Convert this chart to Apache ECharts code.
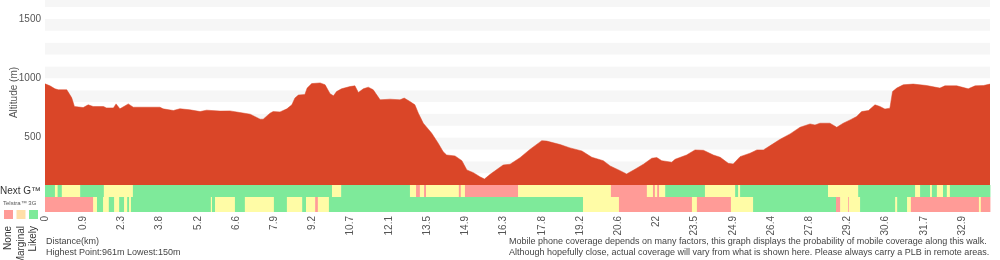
<!DOCTYPE html>
<html>
<head>
<meta charset="utf-8">
<script src="https://cdn.jsdelivr.net/npm/echarts@6/dist/echarts.min.js"></script>
<style>
  html, body { margin: 0; padding: 0; background: #fff; }
  #chart { width: 1000px; height: 260px; }
</style>
</head>
<body>
<div id="chart"></div>
<script>
// x is the sample index along the walk; a distance label is shown every 10 samples
const distanceLabels = ['0', '0.9', '2.3', '3.8', '5.2', '6.6', '7.9', '9.2', '10.7', '12.1', '13.5', '14.9',
  '16.3', '17.8', '19.2', '20.6', '22', '23.5', '24.9', '26.4', '27.8', '29.2', '30.6', '31.7', '32.9']
const lastSample = 247.3

// altitude profile: [sample, metres]
const altitude = [
  [0, 953], [1.3, 936], [2.6, 911], [3.5, 903], [5.7, 903], [6.1, 897], [7.0, 835], [7.7, 762], [7.9, 753],
  [10.0, 753], [11.3, 776], [12.6, 762], [15.3, 762], [16.1, 750], [17.9, 750], [18.6, 784], [19.6, 742],
  [21.8, 784], [23.1, 756], [24.9, 756], [30.1, 756], [30.9, 742], [33.6, 728], [35.3, 743], [37.9, 734],
  [40.6, 719], [42.3, 731], [45.8, 723], [48.4, 725], [51.0, 711], [53.7, 697], [56.3, 655], [57.1, 655],
  [58.9, 706], [59.7, 719], [61.5, 716], [63.3, 742], [64.6, 776], [65.4, 833], [66.3, 858], [68.0, 863],
  [68.6, 917], [69.8, 955], [72.0, 961], [73.3, 945], [74.6, 869], [75.5, 852], [76.3, 888], [77.6, 911],
  [79.8, 930], [81.1, 936], [82.0, 880], [83.3, 911], [84.6, 925], [85.9, 903], [87.7, 818], [90.3, 824],
  [92.9, 818], [94.0, 833], [95.5, 804], [96.8, 776], [97.7, 706], [99.0, 621], [101.2, 537], [102.9, 452],
  [104.2, 381], [105.1, 353], [107.3, 345], [109.1, 305], [110.4, 227], [112.1, 204], [113.8, 170],
  [115.0, 150], [116.5, 190], [119.9, 269], [121.7, 275], [124.3, 330], [126.9, 400], [130.0, 474],
  [131.3, 470], [134.8, 441], [137.4, 413], [140.5, 387], [143.1, 334], [146.1, 305], [147.9, 261],
  [150.5, 221], [152.2, 193], [154.4, 233], [156.6, 275], [158.8, 326], [160.1, 331], [161.4, 305],
  [164.0, 292], [164.9, 317], [167.9, 353], [170.1, 396], [172.3, 393], [174.9, 353], [176.7, 334],
  [178.8, 283], [180.1, 277], [181.9, 339], [184.5, 368], [186.3, 396], [188.0, 396], [189.7, 430],
  [192.4, 486], [195.0, 531], [197.6, 587], [200.2, 615], [201.5, 606], [202.8, 621], [205.4, 621],
  [207.2, 587], [208.9, 621], [210.7, 649], [212.4, 677], [213.7, 719], [215.5, 728], [217.2, 776],
  [218.5, 762], [219.8, 740], [221.1, 748], [221.8, 888], [222.9, 917], [224.6, 945], [227.2, 951],
  [230.7, 939], [234.2, 917], [235.5, 936], [238.6, 936], [241.6, 911], [243.4, 936], [245.6, 939],
  [247.3, 951]
]

// coverage: [from sample, to sample, level]  level 0 none, 1 marginal, 2 likely
const nextG = [
  [0, 2.6, 2], [2.6, 3.3, 1], [3.3, 4.4, 2], [4.4, 9.2, 1], [9.2, 15.4, 2], [15.4, 23.0, 1], [23.0, 75.1, 2],
  [75.1, 77.5, 1], [77.5, 95.5, 2], [95.5, 97.1, 1], [97.1, 98.1, 0], [98.1, 99.2, 1], [99.2, 99.7, 0],
  [99.7, 108.3, 1], [108.3, 108.8, 0], [108.8, 109.9, 1], [109.9, 123.8, 0], [123.8, 148.1, 1],
  [148.1, 157.5, 0], [157.5, 159.1, 1], [159.1, 159.6, 0], [159.6, 160.2, 1], [160.2, 160.7, 0],
  [160.7, 162.3, 1], [162.3, 172.7, 2], [172.7, 180.6, 1], [180.6, 181.4, 2], [181.4, 181.9, 1],
  [181.9, 204.9, 2], [204.9, 212.8, 1], [212.8, 227.7, 2], [227.7, 229.0, 1], [229.0, 231.6, 2],
  [231.6, 232.1, 1], [232.1, 233.4, 2], [233.4, 235.0, 1], [235.0, 236.0, 2], [236.0, 236.8, 1],
  [236.8, 247.3, 2]
]
const telstra3G = [
  [0, 12.6, 0], [12.6, 13.6, 1], [13.6, 15.2, 2], [15.2, 16.7, 1], [16.7, 18.1, 2], [18.1, 19.4, 1],
  [19.4, 20.7, 2], [20.7, 21.5, 1], [21.5, 22.0, 2], [22.0, 22.5, 1], [22.5, 43.4, 2], [43.4, 43.7, 1],
  [43.7, 44.5, 2], [44.5, 49.7, 1], [49.7, 52.3, 2], [52.3, 59.9, 1], [59.9, 63.3, 2], [63.3, 67.3, 1],
  [67.3, 68.3, 2], [68.3, 70.7, 1], [70.7, 71.4, 0], [71.4, 74.3, 1], [74.3, 140.8, 2], [140.8, 150.2, 1],
  [150.2, 169.3, 0], [169.3, 170.6, 1], [170.6, 179.5, 0], [179.5, 185.3, 1], [185.3, 207.0, 2],
  [207.0, 208.1, 0], [208.1, 210.2, 1], [210.2, 210.4, 0], [210.4, 213.3, 1], [213.3, 222.5, 2],
  [222.5, 223.0, 1], [223.0, 225.6, 2], [225.6, 226.6, 1], [226.6, 244.4, 0], [244.4, 244.9, 1],
  [244.9, 247.3, 0]
]
const levelNames = ['None', 'Marginal', 'Likely']

const coverageColors = ['#ff9b97', '#fffca6', '#7eea9a']
const legendColors = ['#ff9b97', '#ffdfa8', '#7eea9a']
const textFont = '"Liberation Sans", Arial, sans-serif'

const chart = echarts.init(document.getElementById('chart'), null, { renderer: 'canvas' })

function coverageItem(params, api) {
  const a = api.coord([api.value(0), 1])
  const b = api.coord([api.value(1), 0])
  return {
    type: 'rect',
    shape: { x: a[0], y: a[1], width: b[0] - a[0] + 0.4, height: b[1] - a[1] },
    style: { fill: coverageColors[api.value(2)] }
  }
}

const hiddenX = (gridIndex) => ({
  type: 'value', gridIndex, min: 0, max: lastSample, interval: 10,
  axisLine: { show: false }, axisTick: { show: false }, axisLabel: { show: false }, splitLine: { show: false }
})
const hiddenY = (gridIndex) => ({
  type: 'value', gridIndex, min: 0, max: 1,
  axisLine: { show: false }, axisTick: { show: false }, axisLabel: { show: false }, splitLine: { show: false }
})

const noteStyle = { fill: '#444', font: '9px ' + textFont }

chart.setOption({
  animation: false,
  grid: [
    { left: 45, right: 10, top: 0, height: 185, outerBoundsMode: 'none', containLabel: false },
    { left: 45, right: 10, top: 185, height: 12, outerBoundsMode: 'none', containLabel: false },
    { left: 45, right: 10, top: 197, height: 15, outerBoundsMode: 'none', containLabel: false }
  ],
  xAxis: [
    hiddenX(0),
    hiddenX(1),
    {
      type: 'value', gridIndex: 2, min: 0, max: lastSample, interval: 10,
      axisLine: { show: false }, axisTick: { show: false }, splitLine: { show: false },
      axisLabel: {
        rotate: 90, margin: 4, color: '#555', fontSize: 10, fontFamily: textFont,
        formatter: (v) => {
          const i = Math.round(v / 10)
          return Math.abs(v - i * 10) < 0.01 && distanceLabels[i] !== undefined ? distanceLabels[i] : ''
        }
      }
    }
  ],
  yAxis: [
    {
      type: 'value', gridIndex: 0, min: 100, max: 1660, interval: 100,
      name: 'Altitude (m)', nameLocation: 'middle', nameGap: 26, nameMoveOverlap: false,
      nameTextStyle: { color: '#555', fontSize: 10, fontFamily: textFont },
      axisLine: { show: false }, axisTick: { show: false }, splitLine: { show: false },
      splitArea: { show: true, areaStyle: { color: ['#ffffff', '#f6f6f6'] } },
      axisLabel: {
        margin: 4, color: '#555', fontSize: 10, fontFamily: textFont,
        formatter: (v) => (v % 500 === 0 ? String(v) : '')
      }
    },
    hiddenY(1),
    hiddenY(2)
  ],
  series: [
    {
      type: 'line', xAxisIndex: 0, yAxisIndex: 0, data: altitude,
      symbol: 'none', silent: true,
      lineStyle: { width: 0.5, color: '#da4628' },
      areaStyle: { color: '#da4628', opacity: 1, origin: 'start' }
    },
    { type: 'custom', xAxisIndex: 1, yAxisIndex: 1, data: nextG, renderItem: coverageItem, encode: { x: [0, 1] } },
    { type: 'custom', xAxisIndex: 2, yAxisIndex: 2, data: telstra3G, renderItem: coverageItem, encode: { x: [0, 1] } }
  ],
  graphic: [
    { type: 'text', left: 0, top: 186, style: { text: 'Next G™', fill: '#333', font: '10px ' + textFont } },
    { type: 'text', left: 3, top: 200, style: { text: 'Telstra™ 3G', fill: '#555', font: '6px ' + textFont } },
    ...legendColors.map((c, i) => ({
      type: 'rect', shape: { x: 4 + i * 12.5, y: 210, width: 9, height: 9 }, style: { fill: c }
    })),
    ...levelNames.map((name, i) => ({
      type: 'text', x: 8.5 + i * 12.5, y: 226, rotation: Math.PI / 2,
      style: { text: name, align: 'right', verticalAlign: 'middle', fill: '#333', font: '10px ' + textFont }
    })),
    { type: 'text', left: 46, top: 237, style: Object.assign({ text: 'Distance(km)' }, noteStyle) },
    { type: 'text', left: 46, top: 248, style: Object.assign({ text: 'Highest Point:961m Lowest:150m' }, noteStyle) },
    { type: 'text', left: 509, top: 237, style: Object.assign({ text: 'Mobile phone coverage depends on many factors, this graph displays the probability of mobile coverage along this walk.' }, noteStyle) },
    { type: 'text', left: 509, top: 248, style: Object.assign({ text: 'Although hopefully close, actual coverage will vary from what is shown here. Please always carry a PLB in remote areas.' }, noteStyle) }
  ]
})
</script>
</body>
</html>
